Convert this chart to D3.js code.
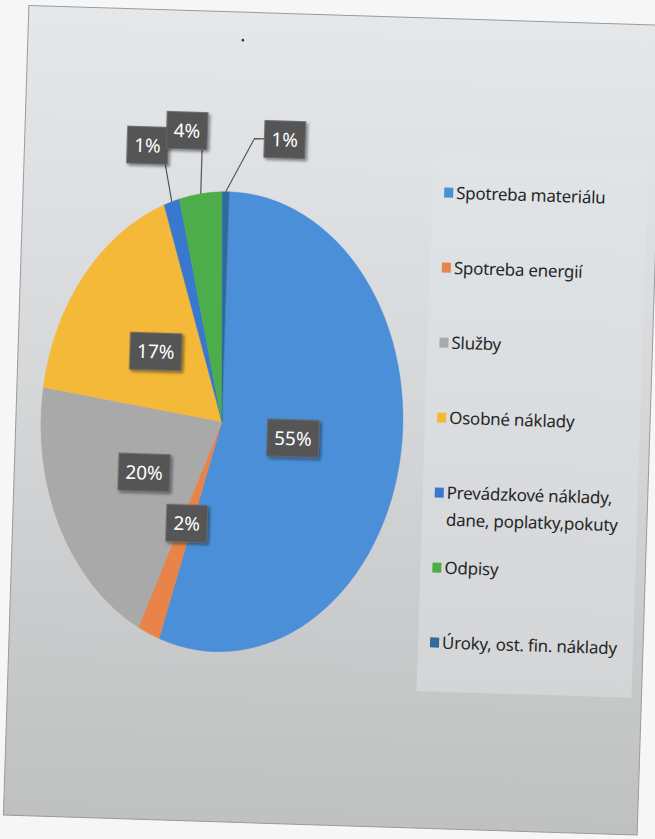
<!DOCTYPE html>
<html>
<head>
<meta charset="utf-8">
<script src="https://cdn.jsdelivr.net/npm/d3@7"></script>
<style>
  html, body { margin: 0; padding: 0; background: #f6f6f6; }
  svg { display: block; }
</style>
</head>
<body>
<svg width="655" height="839"></svg>
<script>

// chart data
var categories = ["Spotreba materiálu", "Spotreba energií", "Služby", "Osobné náklady",
    "Prevádzkové náklady, dane, poplatky,pokuty", "Odpisy", "Úroky, ost. fin. náklady"];
var legendLines = [["Spotreba materiálu"], ["Spotreba energií"], ["Služby"], ["Osobné náklady"],
    ["Prevádzkové náklady,", "dane, poplatky,pokuty"], ["Odpisy"], ["Úroky, ost. fin. náklady"]];
var shares = [55.0, 2.0, 20.0, 17.2, 1.4, 3.8, 0.6];
var colors = ["#4a8fd8", "#e8834a", "#a9a9a9", "#f4b938", "#3a78cf", "#4cad4a", "#2f6a9e"];

var W = 655, H = 839;
var cx = 222, cy = 425, rx = 181, ry = 230;
var fontStack = '"Noto Sans", "Open Sans", sans-serif';

var svg = d3.select('svg');

var defs = svg.append('defs');

var grad = defs.append('linearGradient')
    .attr('id', 'panelGrad')
    .attr('x1', 0).attr('y1', 0).attr('x2', 0).attr('y2', 1);
grad.append('stop').attr('offset', '0%').attr('stop-color', '#e5e8eb');
grad.append('stop').attr('offset', '45%').attr('stop-color', '#d6d8da');
grad.append('stop').attr('offset', '100%').attr('stop-color', '#bfc0c0');

var legGrad = defs.append('linearGradient')
    .attr('id', 'legGrad')
    .attr('x1', 0).attr('y1', 0).attr('x2', 0).attr('y2', 1);
legGrad.append('stop').attr('offset', '0%').attr('stop-color', '#e1e4e7');
legGrad.append('stop').attr('offset', '100%').attr('stop-color', '#d3d5d7');

var shadow = defs.append('filter')
    .attr('id', 'shadow')
    .attr('x', '-30%').attr('y', '-30%').attr('width', '160%').attr('height', '160%');
shadow.append('feDropShadow')
    .attr('dx', 2).attr('dy', 2).attr('stdDeviation', 1.6)
    .attr('flood-color', '#000').attr('flood-opacity', 0.45);

// the photographed page is slightly tilted
var page = svg.append('g')
    .attr('transform', 'rotate(1.8, 327, 420)');

page.append('rect')
    .attr('x', 16).attr('y', 15)
    .attr('width', 634).attr('height', 810)
    .attr('fill', 'url(#panelGrad)')
    .attr('stroke', '#9a9a9a')
    .attr('stroke-width', 1);

page.append('circle')
    .attr('cx', 231).attr('cy', 43).attr('r', 1.4)
    .attr('fill', '#333');

// legend box
page.append('rect')
    .attr('x', 425).attr('y', 150)
    .attr('width', 215).attr('height', 538)
    .attr('fill', 'url(#legGrad)');

// pie
var data = categories.map(function (c, i) {
    return { name: c, value: shares[i], color: colors[i], lines: legendLines[i] };
});

var total = d3.sum(shares);

var pie = d3.pie()
    .value(function (d) { return d.value; })
    .sort(null);

var arcs = pie(data);

var arc = d3.arc()
    .innerRadius(0)
    .outerRadius(ry);

var pieG = page.append('g')
    .attr('transform', 'translate(' + cx + ',' + cy + ') scale(' + (rx / ry) + ',1)');

pieG.selectAll('path')
    .data(arcs)
    .enter()
    .append('path')
    .attr('d', arc)
    .attr('fill', function (d) { return d.data.color; })
    .attr('stroke', function (d) { return d.data.color; })
    .attr('stroke-width', 0.5);

function ellipsePoint(angle, f) {
    return [cx + Math.sin(angle) * rx * f, cy - Math.cos(angle) * ry * f];
}

function pct(d) {
    return Math.round(d.data.value / total * 100) + '%';
}

// callout placement for thin slices (label box centre)
var callouts = {
    "Prevádzkové náklady, dane, poplatky,pokuty": [139, 151],
    "Odpisy": [178, 135],
    "Úroky, ost. fin. náklady": [276, 141]
};

var labelG = page.append('g')
    .attr('font-family', fontStack)
    .attr('font-size', 19);

arcs.forEach(function (d) {
    var mid = (d.startAngle + d.endAngle) / 2;
    var pos, boxH = 37;
    var outside = callouts.hasOwnProperty(d.data.name);

    if (outside) {
        pos = callouts[d.data.name];
    } else {
        pos = ellipsePoint(mid, d.data.value > 50 ? 0.4 : 0.48);
    }

    var g = labelG.append('g');
    var rect = g.append('rect')
        .attr('fill', '#555555')
        .attr('stroke', '#6a6a6a')
        .attr('stroke-width', 0.8)
        .attr('filter', 'url(#shadow)');
    var txt = g.append('text')
        .attr('x', pos[0])
        .attr('y', pos[1] + 7)
        .attr('text-anchor', 'middle')
        .attr('fill', '#ffffff')
        .text(pct(d));

    var tw = txt.node().getComputedTextLength();
    var bw = Math.max(tw + 14, 39);
    var x0 = pos[0] - bw / 2, y0 = pos[1] - boxH / 2;
    rect.attr('x', x0).attr('y', y0).attr('width', bw).attr('height', boxH);

    if (outside) {
        var a = ellipsePoint(mid, 1.0);
        var pts;
        if (a[0] < x0 - 10) {
            pts = [[x0, pos[1]], [x0 - 10, pos[1]], a];
        } else {
            var lx = Math.min(Math.max(a[0], x0 + 4), x0 + bw - 2);
            pts = [[lx, y0 + boxH], a];
        }
        labelG.insert('path', ':first-child')
            .attr('d', d3.line()(pts))
            .attr('fill', 'none')
            .attr('stroke', '#555')
            .attr('stroke-width', 1.2);
    }
});

// legend
var legend = page.append('g')
    .attr('font-family', fontStack)
    .attr('font-size', 17)
    .attr('letter-spacing', -0.25)
    .attr('fill', '#262626');

var legY = d3.scaleLinear().domain([0, 1]).range([189, 264]);

var item = legend.selectAll('g.item')
    .data(data)
    .enter()
    .append('g')
    .attr('class', 'item')
    .attr('transform', function (d, i) { return 'translate(437,' + legY(i) + ')'; });

item.append('rect')
    .attr('x', 0).attr('y', -5)
    .attr('width', 9).attr('height', 10)
    .attr('fill', function (d) { return d.color; });

item.each(function (d) {
    var t = d3.select(this).append('text')
        .attr('x', 12)
        .attr('y', 6);
    d.lines.forEach(function (line, k) {
        t.append('tspan')
            .attr('x', 12)
            .attr('dy', k == 0 ? 0 : 27)
            .text(line);
    });
});

</script>
</body>
</html>
